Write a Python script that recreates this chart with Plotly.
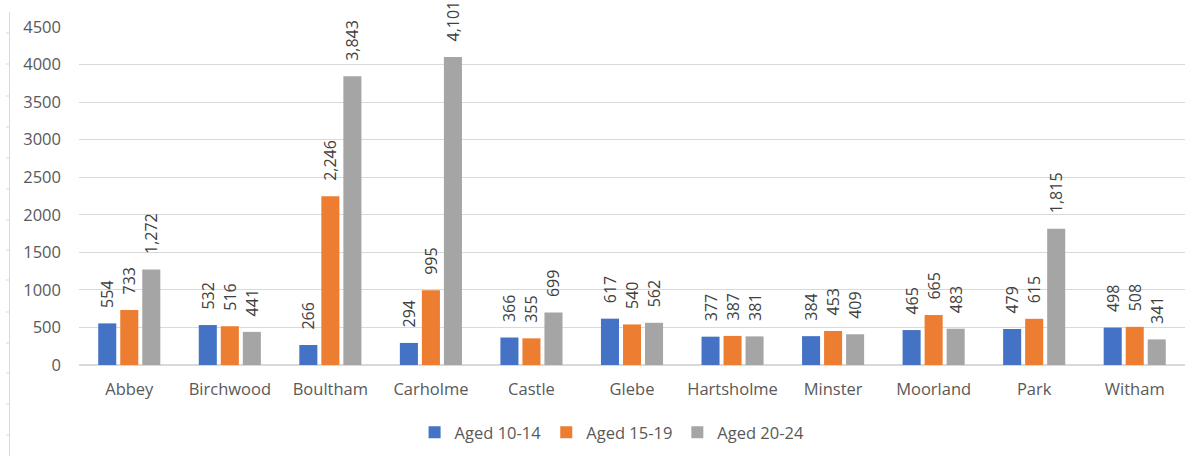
import plotly.graph_objects as go

wards = ["Abbey", "Birchwood", "Boultham", "Carholme", "Castle", "Glebe",
         "Hartsholme", "Minster", "Moorland", "Park", "Witham"]
aged_10_14 = [554, 532, 266, 294, 366, 617, 377, 384, 465, 479, 498]
aged_15_19 = [733, 516, 2246, 995, 355, 540, 387, 453, 665, 615, 508]
aged_20_24 = [1272, 441, 3843, 4101, 699, 562, 381, 409, 483, 1815, 341]
series_names = ["Aged 10-14", "Aged 15-19", "Aged 20-24"]
y_ticks = [0, 500, 1000, 1500, 2000, 2500, 3000, 3500, 4000, 4500]

colors = ["#4472C4", "#ED7D31", "#A5A5A5"]
FONT = "Open Sans, Liberation Sans, sans-serif"

fig = go.Figure()
for name, vals, c in zip(series_names, [aged_10_14, aged_15_19, aged_20_24], colors):
    fig.add_trace(go.Bar(
        x=wards, y=vals, name=name, marker=dict(color=c, line=dict(width=0)),
        texttemplate="\u00a0\u00a0\u00a0%{y:,}", textposition="outside", textangle=-90,
        constraintext="none",
        textfont=dict(color="#404040", size=16, family=FONT),
        cliponaxis=False,
    ))

W, H = 1197, 456
ml, mr, mt, mb = 79, 12, 27, 91
pw = W - ml - mr
ph = H - mt - mb

shapes = []
# faint left border line with small tick marks (as in the original image)
lx = (9.5 - ml) / pw
shapes.append(dict(type="line", xref="paper", yref="paper",
                   x0=lx, x1=lx, y0=-(H - (H - mb)) / ph, y1=(H - mb - 12) / ph,
                   line=dict(color="#d9d9d9", width=1)))
for py in [33, 64, 96, 127, 158, 189, 220, 250, 280, 312, 343, 373, 404, 435]:
    yy = (H - mb - py) / ph
    shapes.append(dict(type="line", xref="paper", yref="paper",
                       x0=(6 - ml) / pw, x1=lx, y0=yy, y1=yy,
                       line=dict(color="#d9d9d9", width=1)))

fig.update_layout(
    width=W, height=H,
    margin=dict(l=ml, r=mr, t=mt, b=mb, autoexpand=False),
    paper_bgcolor="white", plot_bgcolor="white",
    barmode="group", bargap=0.343, bargroupgap=0.18,
    font=dict(family=FONT, size=16.5, color="#595959"),
    showlegend=True,
    legend=dict(orientation="h", x=0.482, xanchor="center", y=-0.2, yanchor="middle",
                font=dict(size=16.5, color="#595959"), traceorder="normal",
                itemwidth=30),
    xaxis=dict(showgrid=False, showline=False, ticks="",
               tickfont=dict(size=16.5, color="#595959"), ticklabelstandoff=12),
    yaxis=dict(range=[0, 4500], tickvals=y_ticks, showgrid=True, gridcolor="#d9d9d9",
               gridwidth=1, zeroline=True, zerolinecolor="#d9d9d9", showline=False,
               ticks="", tickfont=dict(size=16.5, color="#595959"), ticklabelstandoff=17),
    shapes=shapes,
)

fig.write_html("out.html", config={"displayModeBar": False},
               post_script="document.body.style.margin='0px';")
